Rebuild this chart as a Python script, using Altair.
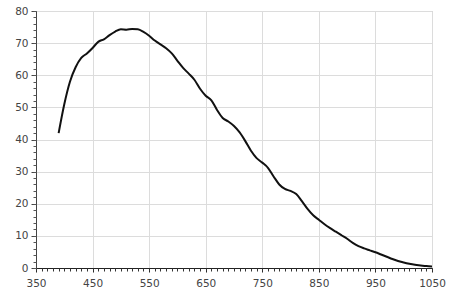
import altair as alt
import pandas as pd

wavelength = [390, 400, 410, 420, 430, 440, 450, 460, 470, 480, 490, 500, 510, 520, 530, 540,
              550, 560, 570, 580, 590, 600, 610, 620, 630, 640, 650, 660, 670, 680, 690, 700,
              710, 720, 730, 740, 750, 760, 770, 780, 790, 800, 810, 820, 830, 840, 850, 860,
              870, 880, 890, 900, 910, 920, 930, 940, 950, 960, 970, 980, 990, 1000, 1010,
              1020, 1030, 1040, 1050]
qe = [42, 51, 58, 62.5, 65.4, 66.8, 68.5, 70.4, 71.2, 72.5, 73.6, 74.3, 74.2, 74.4, 74.3, 73.5,
      72.3, 70.8, 69.6, 68.4, 66.8, 64.5, 62.3, 60.5, 58.6, 55.8, 53.6, 52.2, 49.2, 46.7, 45.6, 44.2,
      42.2, 39.5, 36.5, 34.2, 32.8, 31.2, 28.5, 26, 24.6, 24, 23, 20.8, 18.4, 16.4, 15, 13.6,
      12.4, 11.3, 10.2, 9.1, 7.8, 6.8, 6.1, 5.5, 4.9, 4.2, 3.5, 2.8, 2.2, 1.7, 1.3,
      1.0, 0.8, 0.6, 0.5]

x_major = [350, 450, 550, 650, 750, 850, 950, 1050]
y_major = [0, 10, 20, 30, 40, 50, 60, 70, 80]
x_minor = list(range(350, 1051, 10))
y_minor = list(range(0, 81, 2))

df = pd.DataFrame({"wl": wavelength, "qe": qe})

xs = alt.Scale(domain=[350, 1050], nice=False, zero=False)
ys = alt.Scale(domain=[0, 80], nice=False)

font = "DejaVu Sans"

line = alt.Chart(df).mark_line(color="#111111", strokeWidth=2, interpolate="monotone").encode(
    x=alt.X("wl:Q", scale=xs, axis=alt.Axis(
        values=x_major, format="d", title=None, orient="bottom", grid=True, gridColor="#dcdcdc",
        domainColor="#222222", tickColor="#222222", tickSize=4, labelFont=font,
        labelFontSize=10.5, labelColor="#444444", labelPadding=6, labelFlush=False)),
    y=alt.Y("qe:Q", scale=ys, axis=alt.Axis(
        values=y_major, format="d", title=None, orient="left", grid=True, gridColor="#dcdcdc",
        domainColor="#444444", tickColor="#444444", tickSize=5, labelFont=font,
        labelFontSize=10.5, labelColor="#444444", labelPadding=3)),
)

minor = alt.Chart(df).mark_point(opacity=0).encode(
    x=alt.X("wl:Q", scale=xs, axis=alt.Axis(
        values=x_minor, title=None, orient="bottom", grid=False, labels=False,
        domain=False, tickColor="#333333", tickSize=3)),
    y=alt.Y("qe:Q", scale=ys, axis=alt.Axis(
        values=y_minor, title=None, orient="left", grid=False, labels=False,
        domain=False, tickColor="#555555", tickSize=3)),
)

chart = alt.layer(line, minor).resolve_axis(x="independent", y="independent").properties(
    width=396, height=257,
    autosize=alt.AutoSizeParams(type="none"),
    padding={"left": 36, "top": 11, "right": 17, "bottom": 28},
    background="white",
).configure_view(stroke="#bbbbbb", strokeWidth=1)

chart.save("out.html", embed_options={"renderer": "svg", "actions": False})
